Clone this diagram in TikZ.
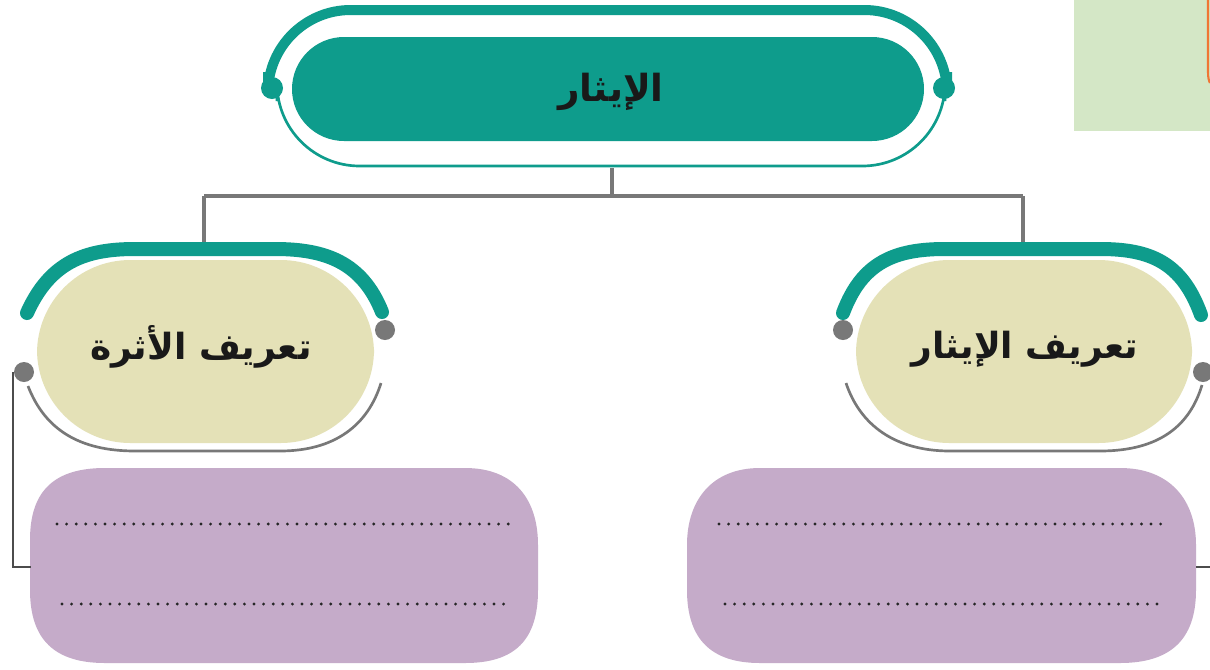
\documentclass[tikz,border=0pt]{standalone}
\usepackage{fontspec}
\newfontfamily\arabicfont[Script=Arabic]{DejaVu Sans}
\TeXXeTstate=1
\definecolor{teal1}{RGB}{14,156,140}
\definecolor{beige}{RGB}{228,225,183}
\definecolor{purp}{RGB}{197,171,201}
\definecolor{dotgray}{RGB}{120,120,120}
\definecolor{lgreen}{RGB}{212,231,198}
\definecolor{orng}{RGB}{240,118,52}
\tikzset{
  connector/.style={draw=dotgray, line width=3pt},
  thinlink/.style={draw=black!70, line width=1.5pt},
  tealarc/.style={draw=teal1, line width=10.5pt, line cap=round},
  grayarc/.style={draw=dotgray, line width=2pt},
  dotline/.style={draw=black!85, line width=2.4pt, dash pattern=on 0pt off 7.2pt, line cap=round},
  label/.style={font=\arabicfont\bfseries\fontsize{27}{30}\selectfont, text=black!90}
}
\begin{document}
\begin{tikzpicture}[x=0.75pt,y=-0.75pt]
\useasboundingbox (0,0) rectangle (1210,669);
\fill[white] (0,0) rectangle (1210,669);
% top-right green box
\fill[lgreen] (1074,0) rectangle (1210,131);
\draw[orng, line width=1.6pt] (1208,0) -- (1208,72) .. controls (1208,78) and (1209,81) .. (1210,83);

% title
\draw[draw=teal1, line width=7.5pt, rounded corners=62pt] (268,72) -- (268,10) -- (947,10) -- (947,72);
\draw[draw=teal1, line width=2pt, rounded corners=62pt] (277,101) -- (277,166) -- (945,166) -- (945,101);
\fill[teal1, rounded corners=39pt] (292,37) rectangle (924,141);
\node[label, font=\arabicfont\bfseries\fontsize{28}{32}\selectfont] (title) at (611,92) {\beginR الإيثار\endR};
\fill[teal1] (272,88) circle[radius=11] coordinate (tl);
\fill[teal1] (944,88) circle[radius=11] coordinate (tr);

% connectors
\coordinate (tb) at (612,168);
\coordinate (hub) at (612,196);
\coordinate (lj) at (204,196);
\coordinate (rj) at (1023,196);
\draw[connector] (tb) -- (hub);
\draw[connector] (lj) -- (rj);
\draw[connector] (lj) -- (204,244);
\draw[connector] (rj) -- (1023,244);

% left child
\draw[tealarc] (27,313) .. controls (50,262) and (85,249) .. (135,249) -- (275,249) .. controls (325,249) and (362,262) .. (382,312);
\draw[grayarc] (28,386) .. controls (45,430) and (80,451) .. (135,451) -- (280,451) .. controls (335,451) and (368,425) .. (381,383);
\fill[beige, rounded corners=70pt] (37,260) rectangle (374,443);
\node[label] (lnode) at (201,347) {\beginR تعريف الأثرة\endR};
\fill[dotgray] (385,330) circle[radius=10];
\fill[dotgray] (24,372) circle[radius=10] coordinate (ldot);

% right child
\draw[tealarc] (843,313) .. controls (862,262) and (895,249) .. (945,249) -- (1100,249) .. controls (1150,249) and (1182,262) .. (1201,315);
\draw[grayarc] (846,383) .. controls (860,425) and (895,451) .. (950,451) -- (1100,451) .. controls (1160,451) and (1190,425) .. (1202,385);
\fill[beige, rounded corners=70pt] (856,260) rectangle (1192,443);
\node[label] (rnode) at (1025,349) {\beginR تعريف الإيثار\endR};
\fill[dotgray] (843,330) circle[radius=10];
\fill[dotgray] (1203,372) circle[radius=10];

% purple boxes
\fill[purp] (30,540) .. controls (30,490) and (55,468) .. (105,468) -- (465,468) .. controls (515,468) and (538,500) .. (538,545) -- (538,590) .. controls (538,640) and (515,663) .. (465,663) -- (105,663) .. controls (55,663) and (30,640) .. (30,590) -- cycle;
\coordinate (lbox) at (31,567);
\fill[purp] (687,545) .. controls (687,500) and (712,468) .. (760,468) -- (1120,468) .. controls (1170,468) and (1196,500) .. (1196,545) -- (1196,590) .. controls (1196,640) and (1170,663) .. (1120,663) -- (760,663) .. controls (712,663) and (687,640) .. (687,590) -- cycle;
\coordinate (rbox) at (1196,567);
\coordinate (redge) at (1210,567);

\draw[dotline] (57,524) -- (510,524);
\draw[dotline] (62,604) -- (504,604);
\draw[dotline] (719,524) -- (1170,524);
\draw[dotline] (725,604) -- (1165,604);

% side links
\draw[thinlink] (13,372) -- (13,567) -- (lbox);
\draw[thinlink] (rbox) -- (redge);
\end{tikzpicture}
\end{document}
